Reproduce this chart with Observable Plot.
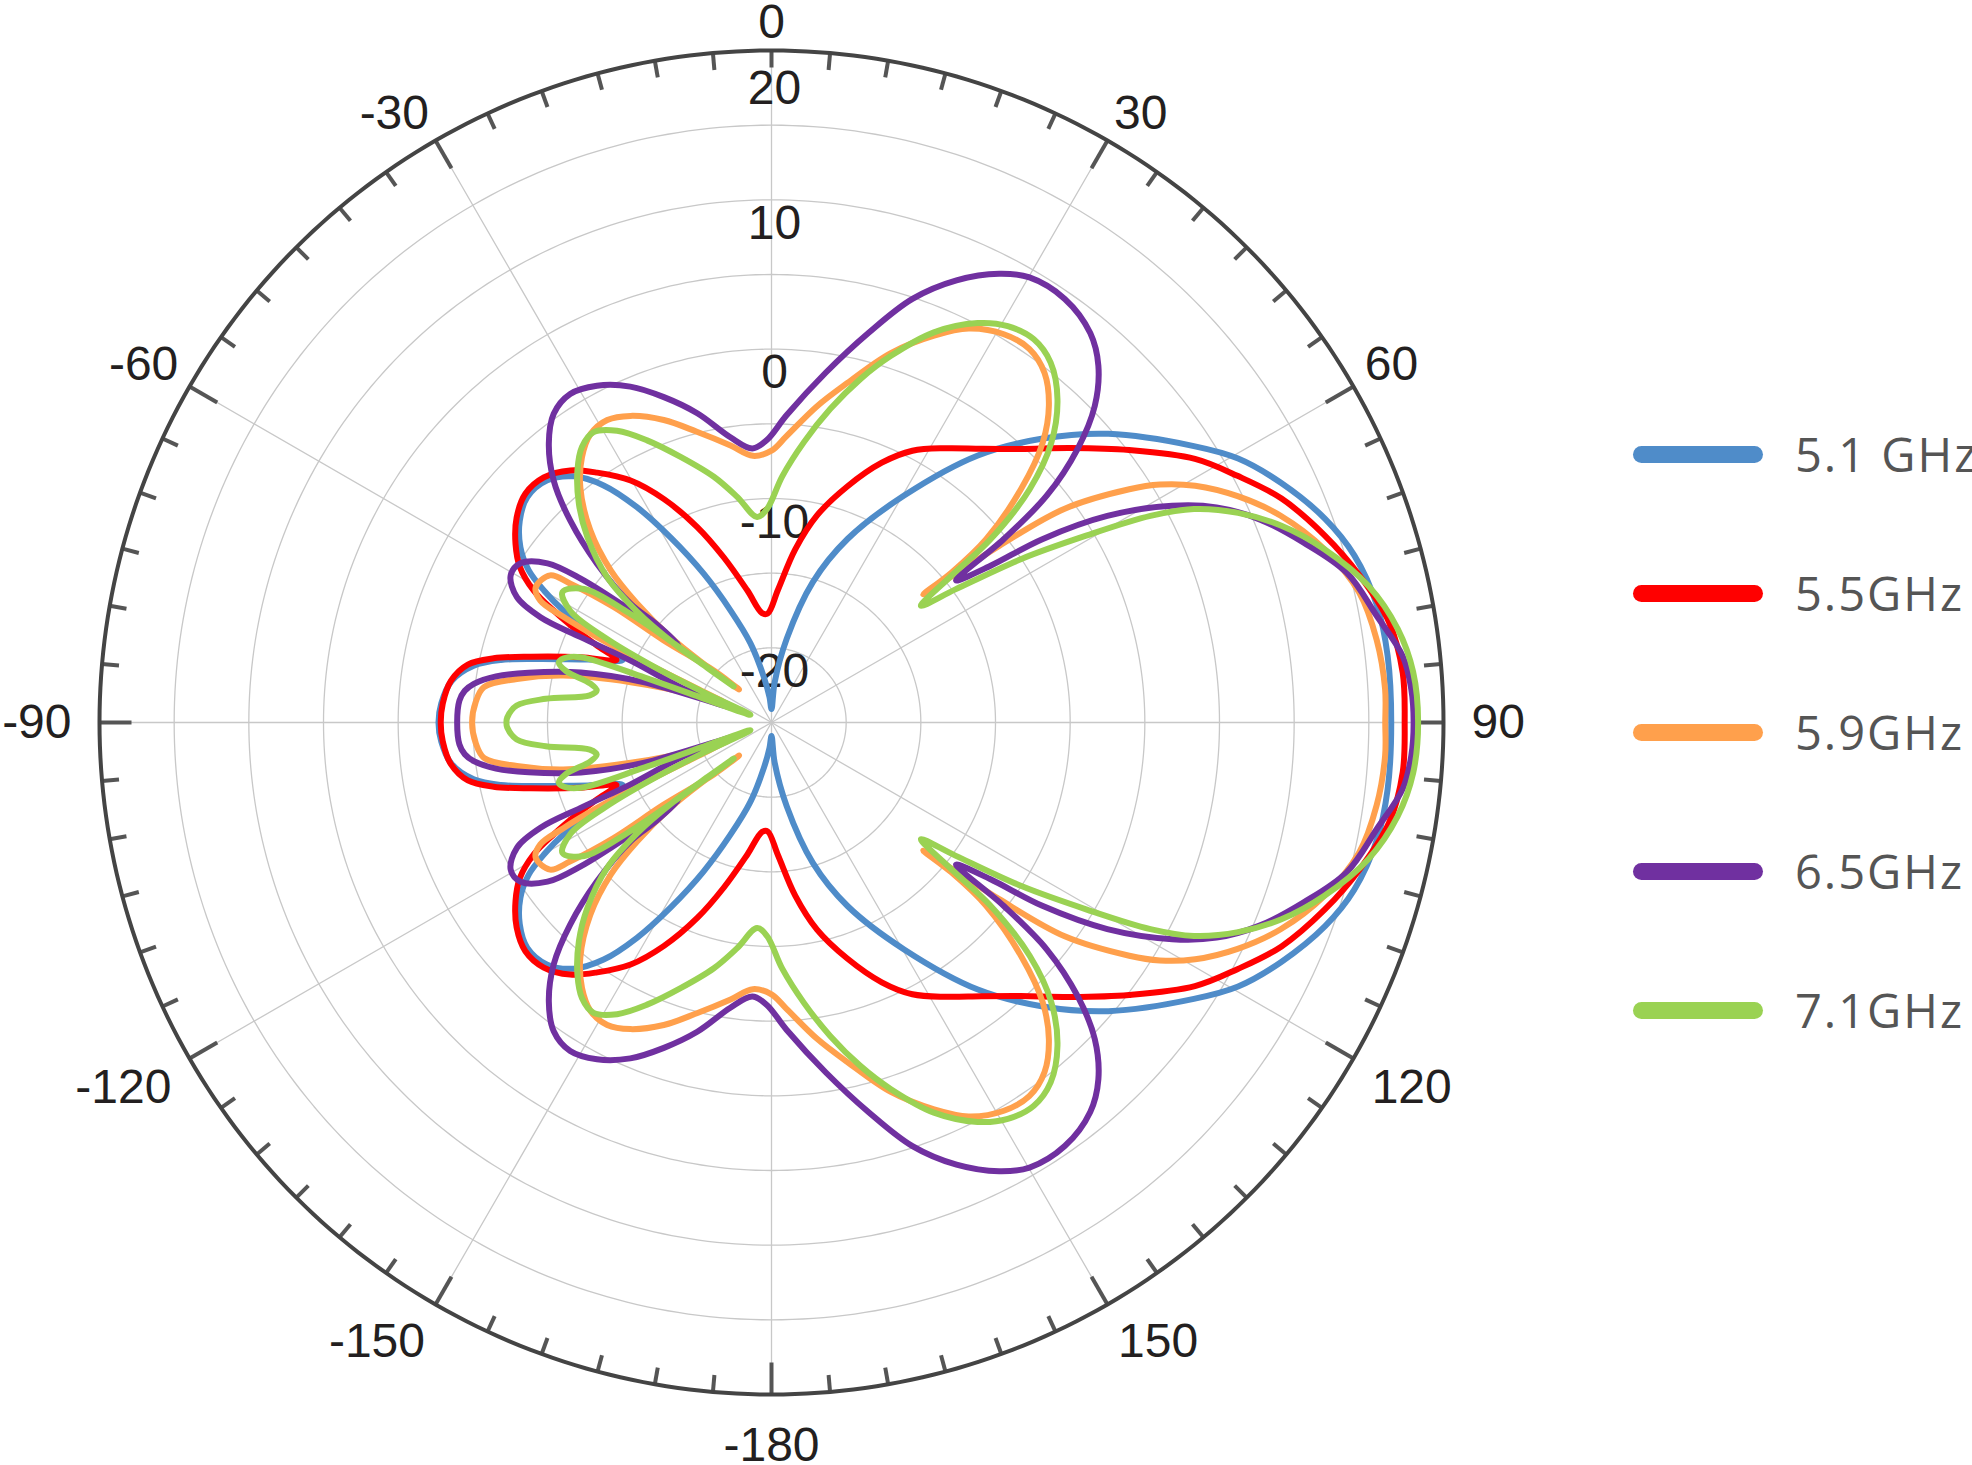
<!DOCTYPE html>
<html><head><meta charset="utf-8">
<script src="https://cdn.jsdelivr.net/npm/d3@7"></script>
<script src="https://cdn.jsdelivr.net/npm/@observablehq/plot@0.6"></script>
<style>
html,body{margin:0;padding:0;background:#fff;}
#wrap{position:relative;width:1972px;height:1465px;overflow:hidden;}
.item{position:absolute;left:1633px;height:0;}
.sw{position:absolute;left:0;width:130px;height:17px;border-radius:9px;top:-8.5px;}
.lb{position:absolute;left:162px;top:-33px;font-family:"Open Sans";font-size:47px;letter-spacing:2px;color:#555;white-space:nowrap;line-height:66px;}
</style></head>
<body><div id="wrap"></div>
<script>
// ---- series (angle in degrees clockwise from top, gain in dB) ----
const seriesNames = ["5.1 GHz","5.5GHz","5.9GHz","6.5GHz","7.1GHz"];
const seriesColors = ["#4F8CC9","#FF0000","#FFA04C","#7030A0","#9AD253"];

const up51 = [[-90,-2.7],[-86.7,-2.85],[-82.6,-3.4],[-79.2,-4.7],[-77,-6.4],[-74.7,-8.9],[-71.1,-12.0],[-67,-14.2],[-64.5,-13.5],[-63.1,-11.4],[-61.7,-9.2],[-59.9,-7.4],[-57.9,-5.8],[-55.1,-4.5],[-51.3,-3.4],[-47.3,-2.75],[-42.8,-2.9],[-38.8,-3.85],[-35.3,-5.55],[-32,-8.0],[-28.6,-10.9],[-24.5,-14.05],[-20.1,-17.0],[-14.9,-19.5],[-9.6,-21.9],[-4.5,-23.3],[0,-24.1],[4.5,-22.3],[10.3,-19.3],[16.4,-15.2],[22.5,-11.7],[30.3,-7.4],[37.7,-2.4],[43.7,1.3],[49.4,4.7],[56.8,8.8],[60.5,10.9],[64.8,12.7],[69.8,14.5],[74,15.6],[79.1,16.3],[83.8,16.5],[90,16.5]];
const lo51 = [[96.2,16.5],[100.9,16.3],[106,15.6],[110.2,14.5],[115.2,12.7],[119.5,10.9],[123.2,8.8],[130.6,4.7],[136.3,1.3],[142.3,-2.4],[149.7,-7.4],[157.5,-11.7],[163.6,-15.2],[169.7,-19.3],[175.5,-22.3],[180,-24.1],[184.5,-23.3],[189.6,-21.9],[194.9,-19.5],[200.1,-17.0],[204.5,-14.05],[208.6,-10.9],[212,-8.0],[215.3,-5.55],[218.8,-3.85],[222.8,-2.9],[227.3,-2.75],[231.3,-3.4],[235.1,-4.5],[237.9,-5.8],[239.9,-7.4],[241.7,-9.2],[243.1,-11.4],[244.5,-13.5],[247,-14.2],[251.1,-12.0],[254.7,-8.9],[257,-6.4],[259.2,-4.7],[262.6,-3.4],[266.7,-2.85]];

const up55 = [[-90,-2.85],[-86.7,-2.95],[-82.6,-3.35],[-79.2,-4.3],[-77,-5.9],[-74.7,-8.3],[-71.1,-11.5],[-68,-13.8],[-66.2,-12.2],[-64.7,-10.6],[-62.8,-8.6],[-61,-6.8],[-58.3,-5.2],[-55.1,-4.1],[-51.2,-3.1],[-47.1,-2.5],[-42.9,-2.6],[-38.6,-3.4],[-34.9,-4.6],[-30.2,-6.25],[-25.7,-8.4],[-20.8,-11.0],[-16.1,-13.5],[-10.4,-16.0],[-4.9,-17.65],[-2,-17.7],[2.8,-16.1],[7.8,-13.3],[12.4,-10.8],[17.8,-8.4],[23,-6.1],[27.4,-4.5],[32.6,-3.2],[37.5,-1.9],[42.4,-0.2],[47.5,2.2],[52.7,5.1],[58.1,8.4],[62.1,10.3],[66.3,12.3],[71.3,14.1],[76,15.6],[80.8,16.9],[85.5,17.4],[90,17.4]];
const lo55 = [[94.5,17.4],[99.2,16.9],[104,15.6],[108.7,14.1],[113.7,12.3],[117.9,10.3],[121.9,8.4],[127.3,5.1],[132.5,2.2],[137.6,-0.2],[142.5,-1.9],[147.4,-3.2],[152.6,-4.5],[157,-6.1],[162.2,-8.4],[167.6,-10.8],[172.2,-13.3],[177.2,-16.1],[182,-17.7],[184.9,-17.65],[190.4,-16.0],[196.1,-13.5],[200.8,-11.0],[205.7,-8.4],[210.2,-6.25],[214.9,-4.6],[218.6,-3.4],[222.9,-2.6],[227.1,-2.5],[231.2,-3.1],[235.1,-4.1],[238.3,-5.2],[241,-6.8],[242.8,-8.6],[244.7,-10.6],[246.2,-12.2],[248,-13.8],[251.1,-11.5],[254.7,-8.3],[257,-5.9],[259.2,-4.3],[262.6,-3.35],[266.7,-2.95]];

const up59 = [[-90,-4.95],[-86,-5.15],[-83,-5.6],[-80.3,-7.7],[-77.3,-10.7],[-74,-15.2],[-70,-19.7],[-68,-22],[-65.5,-19.5],[-64.7,-15.8],[-63.9,-12.0],[-63.1,-9.4],[-62.2,-7.5],[-60.2,-6.8],[-56.4,-7.2],[-55.4,-8.6],[-53.8,-11.9],[-52.7,-15.9],[-48,-19.8],[-44.5,-21.9],[-49.1,-19.0],[-49.8,-16.1],[-48.5,-13.0],[-46.6,-10.2],[-43.3,-7.3],[-39.1,-4.7],[-35.5,-3.15],[-32.1,-2.2],[-28.5,-1.95],[-24.7,-2.4],[-19.6,-3.5],[-14.4,-4.9],[-8.4,-6.25],[-4,-7.1],[0,-6.8],[3,-5.8],[8.2,-3.6],[12.6,-1.7],[17.9,1.0],[22.8,3.1],[26.6,4.5],[30.9,5.3],[34.6,5.4],[38,4.7],[41.2,3.2],[44.1,1.1],[46.9,-2.1],[49.5,-6.1],[50.2,-9.3],[49.8,-11.7],[51.3,-8.6],[52.2,-5.7],[53.9,-0.7],[56.9,3.6],[58.5,5.5],[60.8,7.5],[64.1,9.7],[67.9,11.8],[72.6,13.8],[77.5,15.3],[82.2,15.9],[86.9,16.15],[90,16.1]];
const lo59 = [[93.1,16.15],[97.8,15.9],[102.5,15.3],[107.4,13.8],[112.1,11.8],[115.9,9.7],[119.2,7.5],[121.5,5.5],[123.1,3.6],[126.1,-0.7],[127.8,-5.7],[128.7,-8.6],[130.2,-11.7],[129.8,-9.3],[130.5,-6.1],[133.1,-2.1],[135.9,1.1],[138.8,3.2],[142,4.7],[145.4,5.4],[149.1,5.3],[153.4,4.5],[157.2,3.1],[162.1,1.0],[167.4,-1.7],[171.8,-3.6],[177,-5.8],[180,-6.8],[184,-7.1],[188.4,-6.25],[194.4,-4.9],[199.6,-3.5],[204.7,-2.4],[208.5,-1.95],[212.1,-2.2],[215.5,-3.15],[219.1,-4.7],[223.3,-7.3],[226.6,-10.2],[228.5,-13.0],[229.8,-16.1],[229.1,-19.0],[224.5,-21.9],[228,-19.8],[232.7,-15.9],[233.8,-11.9],[235.4,-8.6],[236.4,-7.2],[240.2,-6.8],[242.2,-7.5],[243.1,-9.4],[243.9,-12.0],[244.7,-15.8],[245.5,-19.5],[248,-22],[250,-19.7],[254,-15.2],[257.3,-10.7],[260.3,-7.7],[263,-5.6],[266,-5.15]];

const up65 = [[-90,-3.95],[-86,-4.05],[-84.1,-4.35],[-82.6,-4.9],[-80.5,-6.3],[-78.4,-8.4],[-75.3,-11.8],[-72.5,-16],[-69.5,-22.2],[-68.8,-18.5],[-66.3,-14.7],[-65.9,-11.0],[-65.5,-8.0],[-63.8,-6.0],[-60.6,-4.95],[-57.6,-5.1],[-54.6,-6.6],[-53,-9.0],[-51.5,-12.9],[-50.5,-15.65],[-50,-16.9],[-49.5,-14.8],[-49.9,-12.7],[-47.7,-9.2],[-44.9,-5.9],[-42,-3.2],[-38.6,-1.1],[-35.2,0.3],[-31.5,0.8],[-27.4,0.4],[-22.8,-0.6],[-18.3,-2.05],[-13.5,-3.7],[-8.2,-5.7],[-4,-6.6],[-1,-6.1],[2.8,-4.4],[8.8,-1.3],[14,1.9],[18.4,4.9],[22.7,7.1],[26.9,8.7],[30.1,9.45],[34.7,9.5],[39.3,8.7],[42.5,7.4],[45.6,5.3],[48.2,2.5],[50.5,-1.1],[51.7,-5.2],[52.4,-9.4],[54.4,-7.0],[55.9,-3.1],[58.4,1.4],[61.6,5.5],[64.2,8.1],[67.4,10.4],[71.3,12.6],[75.4,14.8],[80,16.15],[84,17.5],[87,17.9],[90,18.0]];
const lo65 = [[93,17.9],[96,17.5],[100,16.15],[104.6,14.8],[108.7,12.6],[112.6,10.4],[115.8,8.1],[118.4,5.5],[121.6,1.4],[124.1,-3.1],[125.6,-7.0],[127.6,-9.4],[128.3,-5.2],[129.5,-1.1],[131.8,2.5],[134.4,5.3],[137.5,7.4],[140.7,8.7],[145.3,9.5],[149.9,9.45],[153.1,8.7],[157.3,7.1],[161.6,4.9],[166,1.9],[171.2,-1.3],[177.2,-4.4],[181,-6.1],[184,-6.6],[188.2,-5.7],[193.5,-3.7],[198.3,-2.05],[202.8,-0.6],[207.4,0.4],[211.5,0.8],[215.2,0.3],[218.6,-1.1],[222,-3.2],[224.9,-5.9],[227.7,-9.2],[229.9,-12.7],[229.5,-14.8],[230,-16.9],[230.5,-15.65],[231.5,-12.9],[233,-9.0],[234.6,-6.6],[237.6,-5.1],[240.6,-4.95],[243.8,-6.0],[245.5,-8.0],[245.9,-11.0],[246.3,-14.7],[248.8,-18.5],[249.5,-22.2],[252.5,-16],[255.3,-11.8],[258.4,-8.4],[260.5,-6.3],[262.6,-4.9],[264.1,-4.35],[266,-4.05]];

const up71 = [[-90,-7.25],[-88.9,-7.3],[-86.2,-7.9],[-84,-9.8],[-81.5,-12.7],[-79.6,-13.1],[-77.9,-12.6],[-75.9,-10.8],[-74.2,-10.2],[-72.8,-10.45],[-71.1,-11.5],[-70.5,-16],[-70.5,-20],[-70,-23.5],[-66,-20],[-64.5,-16],[-63,-12.5],[-61,-9.6],[-58,-8.5],[-54.5,-9.6],[-52.5,-12.9],[-51,-16.5],[-49,-19.5],[-46.3,-21.5],[-49.5,-19.4],[-51,-16.6],[-50.5,-13.4],[-48.5,-10.3],[-44.8,-7.5],[-41.4,-5.5],[-37.6,-3.7],[-34.5,-2.6],[-31.5,-2.2],[-27.9,-2.9],[-23.8,-4.35],[-18.9,-6.2],[-13.2,-8.1],[-8.7,-9.7],[-4,-11.2],[-1.2,-10.7],[2.5,-8.5],[6.6,-6.1],[10.6,-3.65],[14.5,-1.25],[18,0.8],[22.6,3.3],[27.3,5.1],[30.8,5.9],[34.4,6.1],[37.8,5.5],[41.5,3.9],[45,1.5],[47.9,-1.7],[50.1,-5.9],[50.8,-9.45],[52,-12.3],[54.1,-9.8],[56.8,-5.0],[59.3,-0.5],[61.4,3.9],[63.2,6.7],[65.8,9.25],[68.9,11.6],[72.6,13.8],[77.1,16.0],[81.5,17.4],[85.5,18.1],[90,18.3]];
const lo71 = [[94.5,18.1],[98.5,17.4],[102.9,16.0],[107.4,13.8],[111.1,11.6],[114.2,9.25],[116.8,6.7],[118.6,3.9],[120.7,-0.5],[123.2,-5.0],[125.9,-9.8],[128,-12.3],[129.2,-9.45],[129.9,-5.9],[132.1,-1.7],[135,1.5],[138.5,3.9],[142.2,5.5],[145.6,6.1],[149.2,5.9],[152.7,5.1],[157.4,3.3],[162,0.8],[165.5,-1.25],[169.4,-3.65],[173.4,-6.1],[177.5,-8.5],[181.2,-10.7],[184,-11.2],[188.7,-9.7],[193.2,-8.1],[198.9,-6.2],[203.8,-4.35],[207.9,-2.9],[211.5,-2.2],[214.5,-2.6],[217.6,-3.7],[221.4,-5.5],[224.8,-7.5],[228.5,-10.3],[230.5,-13.4],[231,-16.6],[229.5,-19.4],[226.3,-21.5],[229,-19.5],[231,-16.5],[232.5,-12.9],[234.5,-9.6],[238,-8.5],[241,-9.6],[243,-12.5],[244.5,-16],[246,-20],[250,-23.5],[250.5,-20],[250.5,-16],[251.1,-11.5],[252.8,-10.45],[254.2,-10.2],[255.9,-10.8],[257.9,-12.6],[259.6,-13.1],[261.5,-12.7],[264,-9.8],[266.2,-7.9],[268.9,-7.3]];

const seriesData = [up51.concat(lo51), up55.concat(lo55), up59.concat(lo59), up65.concat(lo65), up71.concat(lo71)];

// ---- axes ----
const rMin = -25, rMax = 20;
const ringLevels = [-20,-15,-10,-5,0,5,10,15];
const radialTickValues = [10,0,-10,-20];
const radialTopValue = 20;
const angleTicks = [0,30,60,90,120,150,180,-150,-120,-90,-60,-30];
const angleTickLabels = ["0","30","60","90","120","150","-180","-150","-120","-90","-60","-30"];
const minorTicks = d3.range(-180,180,5).filter(a => a % 30 !== 0 || a === 0);
const majorTicks = angleTicks.filter(a => a !== 0);

// ---- polar projection: pole = centre, arc distance from pole = dB - rMin ----
const R = 672, CX = 771, CY = 722;
const PX = R / (rMax - rMin);               // px per dB
const projection = d3.geoAzimuthalEquidistant()
  .rotate([0, -90]).scale(R / ((rMax - rMin) * Math.PI / 180)).translate([CX, CY]);
const lon = a => 180 - a;
const lat = v => 90 - (v - rMin);
const ring = v => d3.geoCircle().center([0, 90]).radius(v - rMin).precision(1)();

// label anchoring: nearest corner / edge of the label box touches the tick direction
const eps = 0.01;
const anchorOf = a => {
  const t = a * Math.PI / 180, s = Math.sin(t), c = Math.cos(t);
  const ta = s > eps ? "start" : s < -eps ? "end" : "middle";
  const la = c > eps ? "bottom" : c < -eps ? "top" : "middle";
  return {ta, la};
};
const labelRadiusPx = a => {
  const t = a * Math.PI / 180, s = Math.abs(Math.sin(t)), c = Math.cos(t);
  if (s < eps) return c > 0 ? 685 : 704;
  if (Math.abs(c) < eps) return 700;
  return c > 0 ? 685 : 693;
};
const angleLabelData = angleTicks.map((a, i) => ({a, s: angleTickLabels[i], ...anchorOf(a)}));
const anchorGroups = d3.groups(angleLabelData, d => d.ta + "|" + d.la);

const font = "Liberation Sans, Arial, sans-serif";
const marks = [
  Plot.geo(ringLevels, {geometry: ring, stroke: "#c8c8c8", strokeWidth: 1.3, fill: "none"}),
  Plot.link(angleTicks, {x1: lon, y1: 90, x2: lon, y2: lat(rMax), stroke: "#c8c8c8", strokeWidth: 1.3}),
  Plot.link(minorTicks, {x1: lon, y1: lat(rMax), x2: lon, y2: lat(rMax - 17 / PX), stroke: "#555", strokeWidth: 4}),
  Plot.link(majorTicks, {x1: lon, y1: lat(rMax), x2: lon, y2: lat(rMax - 32 / PX), stroke: "#555", strokeWidth: 4}),
  Plot.geo([rMax], {geometry: ring, stroke: "#444", strokeWidth: 4, fill: "none"}),
  Plot.text(radialTickValues, {x: 180, y: v => lat(v), text: v => String(v), lineAnchor: "top", dy: 5, dx: 3,
    fontSize: 48, fontFamily: font, fill: "#231f20"}),
  Plot.text([radialTopValue], {x: 180, y: v => lat(v), text: v => String(v), lineAnchor: "top", dy: 19, dx: 3,
    fontSize: 48, fontFamily: font, fill: "#231f20"})
];
anchorGroups.forEach(([key, rows]) => {
  marks.push(Plot.text(rows, {x: d => lon(d.a), y: d => 90 - labelRadiusPx(d.a) / PX, text: "s",
    textAnchor: rows[0].ta, lineAnchor: rows[0].la, fontSize: 48, fontFamily: font, fill: "#231f20"}));
});
seriesData.forEach((data, i) => {
  marks.push(Plot.line(data, {x: d => lon(d[0]), y: d => lat(d[1]), stroke: seriesColors[i], strokeWidth: 6,
    curve: "catmull-rom-closed", strokeLinejoin: "round"}));
});

const chart = Plot.plot({width: 1972, height: 1465, margin: 0, projection, marks});
const wrap = document.getElementById("wrap");
wrap.appendChild(chart);

// ---- legend ----
seriesNames.forEach((name, i) => {
  const item = document.createElement("div");
  item.className = "item";
  item.style.top = (454 + i * 139) + "px";
  const sw = document.createElement("div");
  sw.className = "sw"; sw.style.background = seriesColors[i];
  const lb = document.createElement("div");
  lb.className = "lb"; lb.textContent = name;
  item.appendChild(sw); item.appendChild(lb);
  wrap.appendChild(item);
});
</script></body></html>
